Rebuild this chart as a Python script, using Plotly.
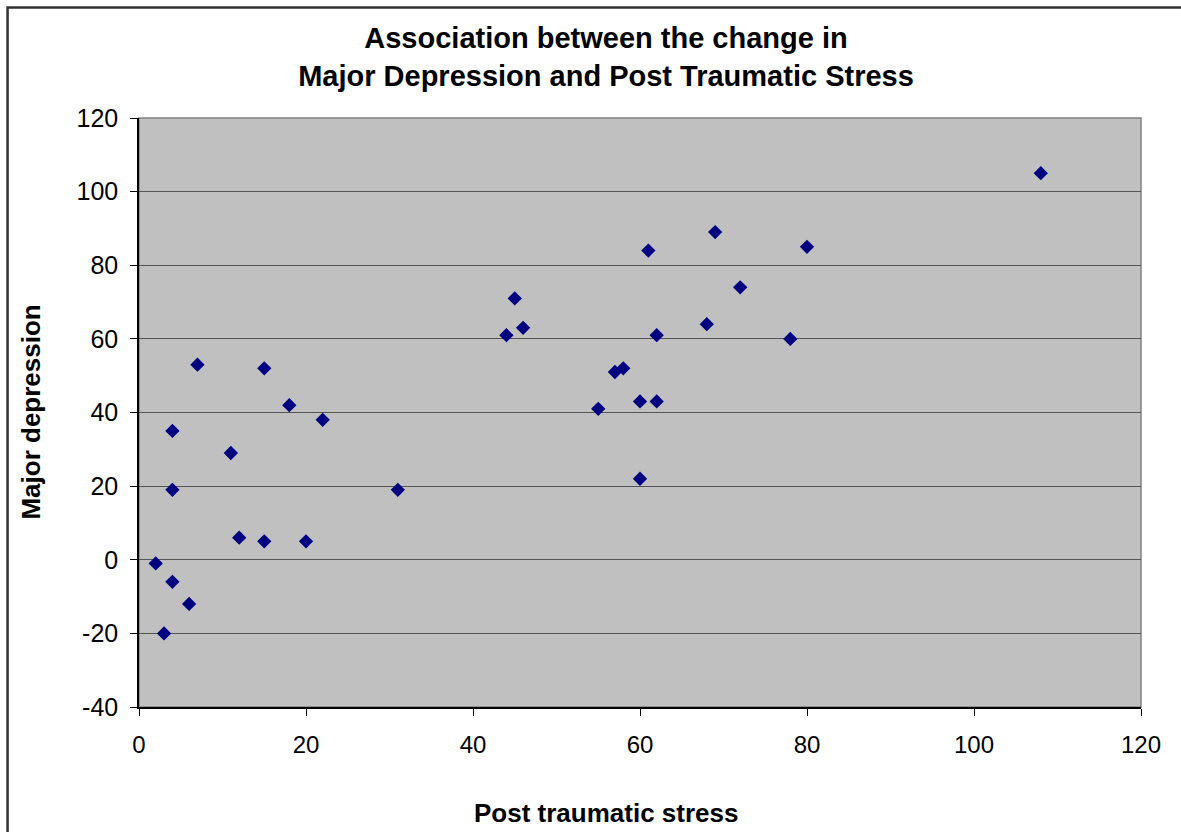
import plotly.graph_objects as go

# Change scores per participant
ptsd_change = [2, 3, 4, 4, 4, 6, 7, 11, 12, 15, 15, 18, 20, 22, 31,
               44, 45, 46, 55, 57, 58, 60, 60, 61, 62, 62, 68, 69, 72, 78, 80, 108]
depression_change = [-1, -20, 35, 19, -6, -12, 53, 29, 6, 52, 5, 42, 5, 38, 19,
                     61, 71, 63, 41, 51, 52, 43, 22, 84, 61, 43, 64, 89, 74, 60, 85, 105]

x_ticks = [0, 20, 40, 60, 80, 100, 120]
y_ticks = [-40, -20, 0, 20, 40, 60, 80, 100, 120]
y_tick_labels = ["-40", "-20", "0", "20", "40", "60", "80", "100", "120"]

FONT = "Liberation Sans, Arial, sans-serif"

# plot area in pixels
L, T, W, H = 138.5, 118, 1002.5, 589


def px_x(px):
    return (px - L) / W


def px_y(py):
    return (T + H - py) / H


fig = go.Figure()
fig.add_trace(go.Scatter(
    x=ptsd_change,
    y=depression_change,
    mode="markers",
    marker=dict(symbol="diamond", size=11, color="#000080",
                line=dict(width=0)),
    showlegend=False,
    cliponaxis=False,
))

fig.update_layout(
    width=1181,
    height=832,
    margin=dict(l=L, r=1181 - L - W, t=T, b=832 - T - H),
    paper_bgcolor="white",
    plot_bgcolor="#C0C0C0",
    font=dict(family=FONT, size=24, color="black"),
    title=dict(
        text="<b>Association between the change in<br>Major Depression and Post Traumatic Stress</b>",
        x=606 / 1181, xanchor="center", xref="container",
        y=1 - 48 / 832, yanchor="middle",
        font=dict(family=FONT, size=29, color="black"),
    ),
    xaxis=dict(
        range=[0, 120],
        tickvals=x_ticks,
        ticks="outside", ticklen=7, tickcolor="black", tickwidth=1,
        showgrid=False, zeroline=False,
        showline=True, linecolor="black", linewidth=1.5,
        tickfont=dict(size=24),
        ticklabelstandoff=8,
    ),
    yaxis=dict(
        range=[-40, 120],
        tickvals=y_ticks,
        ticktext=y_tick_labels,
        ticks="outside", ticklen=7, tickcolor="black", tickwidth=1,
        showgrid=True, gridcolor="#555555", gridwidth=1.3,
        zeroline=False,
        showline=True, linecolor="black", linewidth=1.5,
        tickfont=dict(size=25),
        ticklabelstandoff=7,
    ),
    annotations=[
        dict(text="<b>Post traumatic stress</b>", xref="paper", yref="paper",
             x=px_x(606), y=px_y(813), xanchor="center", yanchor="middle",
             showarrow=False, font=dict(size=26)),
        dict(text="<b>Major depression</b>", xref="paper", yref="paper",
             x=px_x(30), y=px_y(412), xanchor="center", yanchor="middle",
             textangle=-90, showarrow=False, font=dict(size=26)),
    ],
    shapes=[
        # gray frame on the plot area
        dict(type="rect", xref="paper", yref="paper", x0=0, x1=1, y0=0, y1=1,
             line=dict(color="#808080", width=1.5), layer="below"),
        # outer chart frame
        dict(type="rect", xref="paper", yref="paper",
             x0=px_x(7), x1=1.2,
             y0=-0.4, y1=px_y(7.5),
             line=dict(color="#333333", width=2.5)),
    ],
)

fig.write_html("out.html")
